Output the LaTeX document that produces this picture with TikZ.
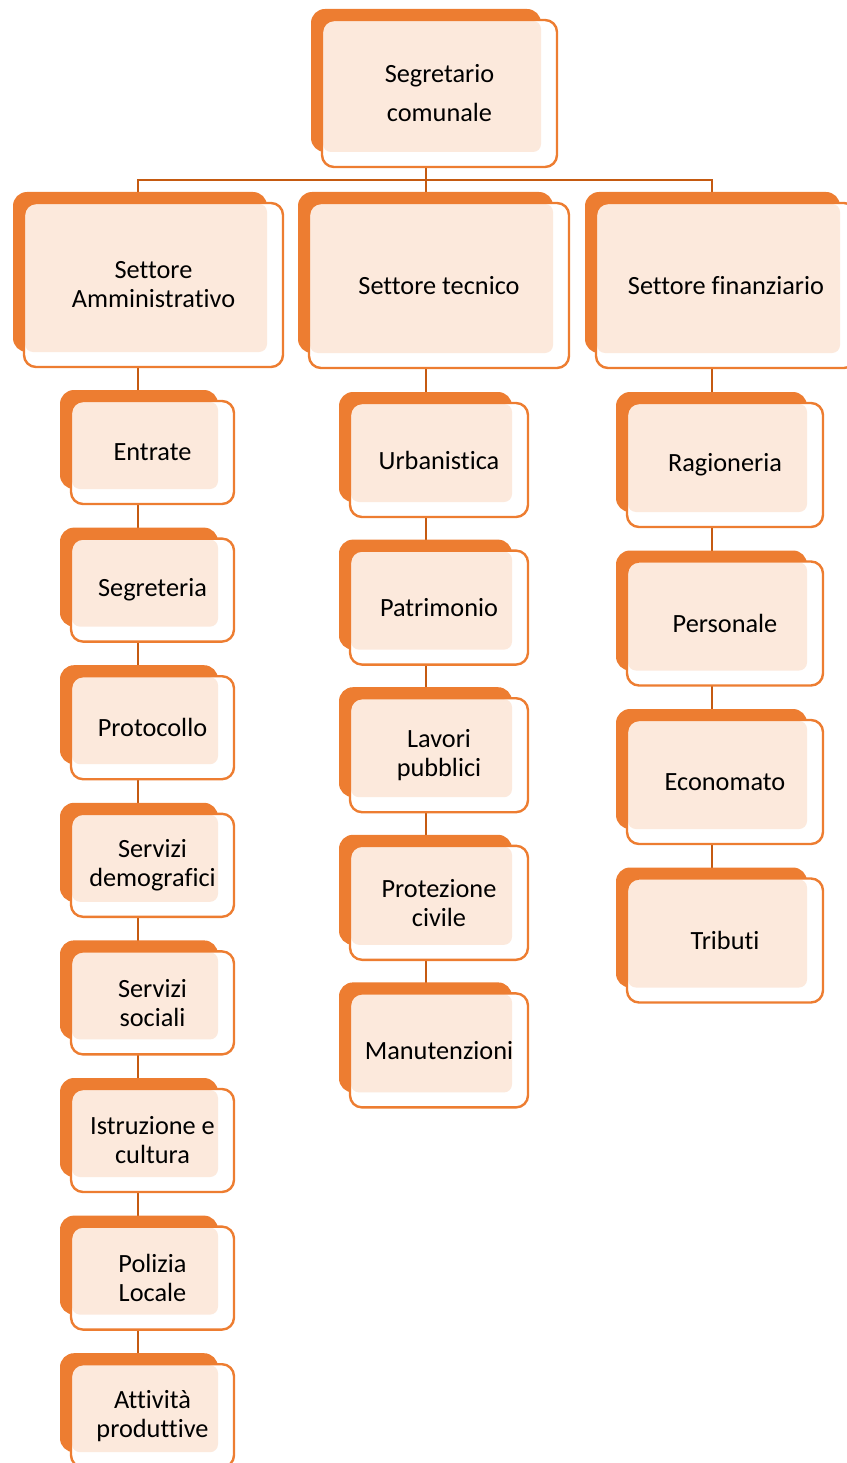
\documentclass[tikz,border=0pt]{standalone}
\usepackage{fontspec}
\setmainfont{Carlito}[Ligatures={NoCommon,NoContextual},RawFeature={-liga;-clig;-calt;-dlig}]
\definecolor{bo}{HTML}{ED7D31}
\definecolor{ln}{HTML}{C55A11}
\pgfdeclarelayer{bg}
\pgfdeclarelayer{mid}
\pgfsetlayers{bg,mid,main}
\tikzset{
  front/.style={draw=bo, line width=2.4pt, fill=white, rounded corners=12pt,
    anchor=north west, inner sep=0pt, outer sep=0pt, align=center,
    font=\fontsize{26.3}{29}\selectfont,
    path picture={\fill[bo!17, rounded corners=8pt]
      ([shift={(1pt,-1pt)}]path picture bounding box.north west) rectangle
      ([shift={(-16pt,15pt)}]path picture bounding box.south east);}},
  backbox/.style={fill=bo, rounded corners=14pt},
  conn/.style={draw=ln, line width=2.4pt},
}
\newcommand\obox[6]{%
  \node[front, minimum width={#4pt-#2pt}, minimum height={#5pt-#3pt}] (#1) at (#2,#3) {#6};
  \begin{pgfonlayer}{mid}
    \fill[backbox] ([shift={(-11pt,11pt)}]#1.north west) rectangle ([shift={(-16pt,15pt)}]#1.south east);
  \end{pgfonlayer}}
\begin{document}
\begin{tikzpicture}[x=1pt,y=-1pt]
\useasboundingbox (0,0) rectangle (846,1463);
\coordinate (cA) at (138,0);
\coordinate (cT) at (426,0);
\coordinate (cF) at (712,0);
\coordinate (bus) at (0,180);
% top
\obox{seg}{322}{20}{557}{167}{Segretario\\[10pt]comunale}
% sectors
\obox{sa}{24}{203}{283}{367}{Settore\\Amministrativo}
\obox{st}{309}{203}{569}{368}{Settore tecnico}
\obox{sf}{596}{203}{856}{368}{Settore finanziario}
% left column
\obox{a1}{71}{401}{234}{504}{Entrate}
\obox{a2}{71}{538.6}{234}{641.6}{Segreteria}
\obox{a3}{71}{676.2}{234}{779.2}{Protocollo}
\obox{a4}{71}{813.8}{234}{916.8}{Servizi\\demografici}
\obox{a5}{71}{951.4}{234}{1054.4}{Servizi\\sociali}
\obox{a6}{71}{1089}{234}{1192}{Istruzione e\\cultura}
\obox{a7}{71}{1226.6}{234}{1329.6}{Polizia\\Locale}
\obox{a8}{71}{1364.2}{234}{1467.2}{Attività\\produttive}
% center column
\obox{t1}{350}{403}{528}{517}{Urbanistica}
\obox{t2}{350}{550.6}{528}{664.6}{Patrimonio}
\obox{t3}{350}{698.2}{528}{812.2}{Lavori\\pubblici}
\obox{t4}{350}{845.8}{528}{959.8}{Protezione\\civile}
\obox{t5}{350}{993.4}{528}{1107.4}{Manutenzioni}
% right column
\obox{f1}{627}{403}{823}{527}{Ragioneria}
\obox{f2}{627}{561.5}{823}{685.5}{Personale}
\obox{f3}{627}{720}{823}{844}{Economato}
\obox{f4}{627}{878.5}{823}{1002.5}{Tributi}
% connectors
\begin{pgfonlayer}{bg}
  \draw[conn] (seg.south -| cT) -- (cT |- bus);
  \draw[conn] (sa.north -| cA) -- (cA |- bus) -- (cF |- bus) -- (sf.north -| cF);
  \draw[conn] (cT |- bus) -- (st.north -| cT);
  \draw[conn] (sa.south -| cA) -- (a1.north -| cA);
  \foreach \p/\c in {a1/a2,a2/a3,a3/a4,a4/a5,a5/a6,a6/a7,a7/a8}
    \draw[conn] (\p.south -| cA) -- (\c.north -| cA);
  \draw[conn] (st.south -| cT) -- (t1.north -| cT);
  \foreach \p/\c in {t1/t2,t2/t3,t3/t4,t4/t5}
    \draw[conn] (\p.south -| cT) -- (\c.north -| cT);
  \draw[conn] (sf.south -| cF) -- (f1.north -| cF);
  \foreach \p/\c in {f1/f2,f2/f3,f3/f4}
    \draw[conn] (\p.south -| cF) -- (\c.north -| cF);
\end{pgfonlayer}
\end{tikzpicture}
\end{document}
